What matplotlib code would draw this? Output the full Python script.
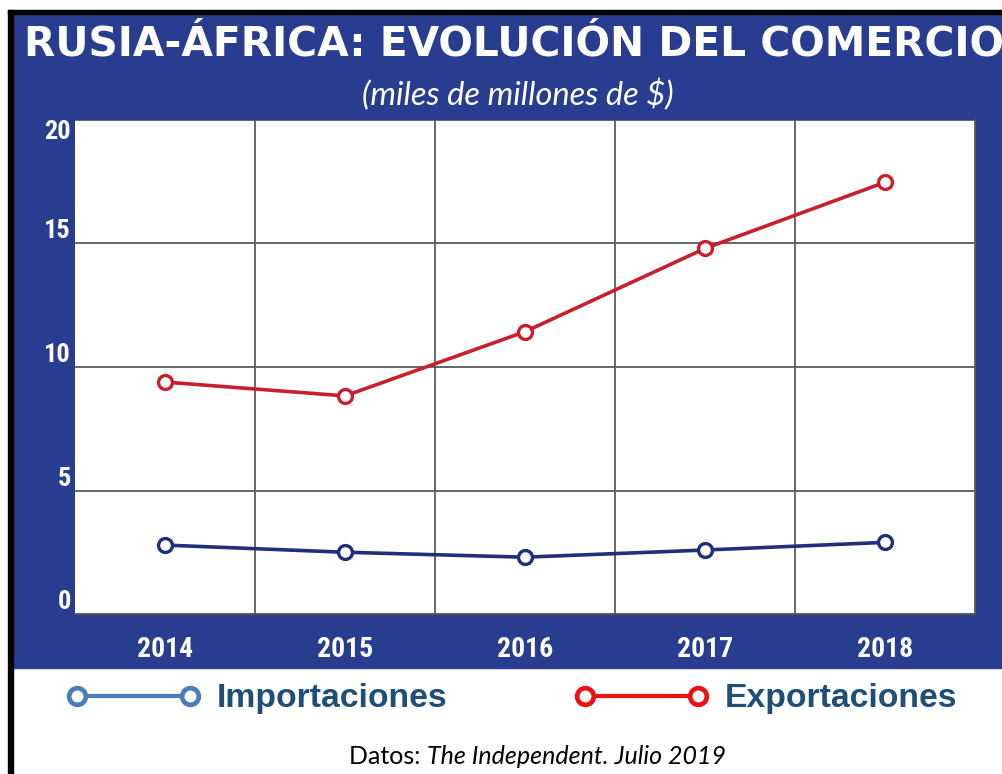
import matplotlib
matplotlib.use("Agg")
import matplotlib.pyplot as plt
from matplotlib import font_manager
from matplotlib.lines import Line2D
from matplotlib.patches import Rectangle

W, H = 1003, 774
BLUE = "#283d8f"
NAVY = "#1f2f7a"
RED = "#c8202a"

years = ["2014", "2015", "2016", "2017", "2018"]
importaciones = [2.79, 2.50, 2.30, 2.59, 2.90]
exportaciones = [9.39, 8.83, 11.43, 14.80, 17.48]
yticks = [0, 5, 10, 15, 20]

# narrow bold face for the axis numbers, whatever is available
_have = {f.name for f in font_manager.fontManager.ttflist}
NARROW = next((n for n in ["Liberation Sans Narrow", "Roboto Condensed",
                           "DejaVu Sans Condensed", "Roboto"] if n in _have),
              "DejaVu Sans")


def fx(px):
    return px / W


def fy(py):
    return 1 - py / H


fig = plt.figure(figsize=(W / 100, H / 100), dpi=100)
fig.patch.set_facecolor("white")

# blue panel + black frame
fig.add_artist(Rectangle((fx(13), fy(668)), 1, fy(14) - fy(668),
                         transform=fig.transFigure, color=BLUE, zorder=0))
fig.add_artist(Rectangle((fx(8), fy(14)), 1, fy(10) - fy(14),
                         transform=fig.transFigure, color="black", zorder=1))
fig.add_artist(Rectangle((fx(8), 0), fx(13) - fx(8), fy(10),
                         transform=fig.transFigure, color="black", zorder=1))

ax = fig.add_axes([fx(75), fy(614), fx(975) - fx(75), fy(120) - fy(614)])
ax.set_facecolor("white")
x = range(len(years))
ax.plot(x, importaciones, color=NAVY, lw=2.6, marker="o", ms=10,
        mfc="white", mec=NAVY, mew=2.4, zorder=3)
ax.plot(x, exportaciones, color=RED, lw=2.6, marker="o", ms=10,
        mfc="white", mec=RED, mew=2.4, zorder=3)

ax.set_xlim(-0.5, 4.5)
ax.set_ylim(0, 20)
ax.set_xticks([i + 0.5 for i in range(len(years) - 1)], minor=False)
ax.set_xticklabels([])
ax.set_xticks(list(x), minor=True)
ax.set_xticklabels(years, minor=True)
ax.set_yticks(yticks)
ax.set_yticklabels([str(v) for v in yticks])
ax.grid(True, which="major", color="#5a5a5a", lw=1.3)
ax.tick_params(which="both", length=0)
ax.tick_params(axis="x", which="minor", pad=16, colors="white",
               labelsize=20)
ax.tick_params(axis="y", pad=3, colors="white", labelsize=19)
for lab in ax.get_xticklabels(minor=True) + ax.get_yticklabels():
    lab.set_fontfamily(NARROW)
    lab.set_fontweight("bold")
ylabs = ax.get_yticklabels()
for lab in ylabs[:-1]:
    lab.set_va("bottom")
ylabs[-1].set_va("top")
for side in ["top", "left"]:
    ax.spines[side].set_visible(False)
for side in ["bottom", "right"]:
    ax.spines[side].set_color("#5a5a5a")
    ax.spines[side].set_linewidth(1.3)

# titles
fig.text(fx(514), fy(44), "RUSIA-ÁFRICA: EVOLUCIÓN DEL COMERCIO",
         ha="center", va="center", color="white", fontsize=29.3,
         fontweight="bold", family="DejaVu Sans")
fig.text(fx(518), fy(95), "(miles de millones de $)", ha="center",
         va="center", color="white", fontsize=23.5, style="italic",
         family="Lato")

# legend
leg_kw = dict(frameon=False, numpoints=2, handlelength=3.95,
              handletextpad=0.5, borderpad=0, borderaxespad=0,
              prop={"family": "Liberation Sans", "weight": "bold", "size": 24.3},
              loc="center left")
h_imp = Line2D([], [], color="#4a7ebb", lw=3, marker="o", ms=12,
               mfc="white", mec="#4a7ebb", mew=3.4)
h_exp = Line2D([], [], color="#ee1111", lw=3, marker="o", ms=12,
               mfc="white", mec="#ee1111", mew=3.4)
l1 = fig.legend([h_imp], ["Importaciones"], bbox_to_anchor=(fx(67), fy(699)), **leg_kw)
l2 = fig.legend([h_exp], ["Exportaciones"], bbox_to_anchor=(fx(575), fy(699)), **leg_kw)
for leg in (l1, l2):
    for t in leg.get_texts():
        t.set_color("#1f4e79")

# source
fig.text(fx(427), fy(757), "Datos: ", ha="right", va="center",
         fontsize=18, family="Lato", color="black")
fig.text(fx(427), fy(757), "The Independent. Julio 2019", ha="left",
         va="center", fontsize=18, family="Lato", style="italic", color="black")

fig.savefig("out.png", dpi=100, facecolor="white")
